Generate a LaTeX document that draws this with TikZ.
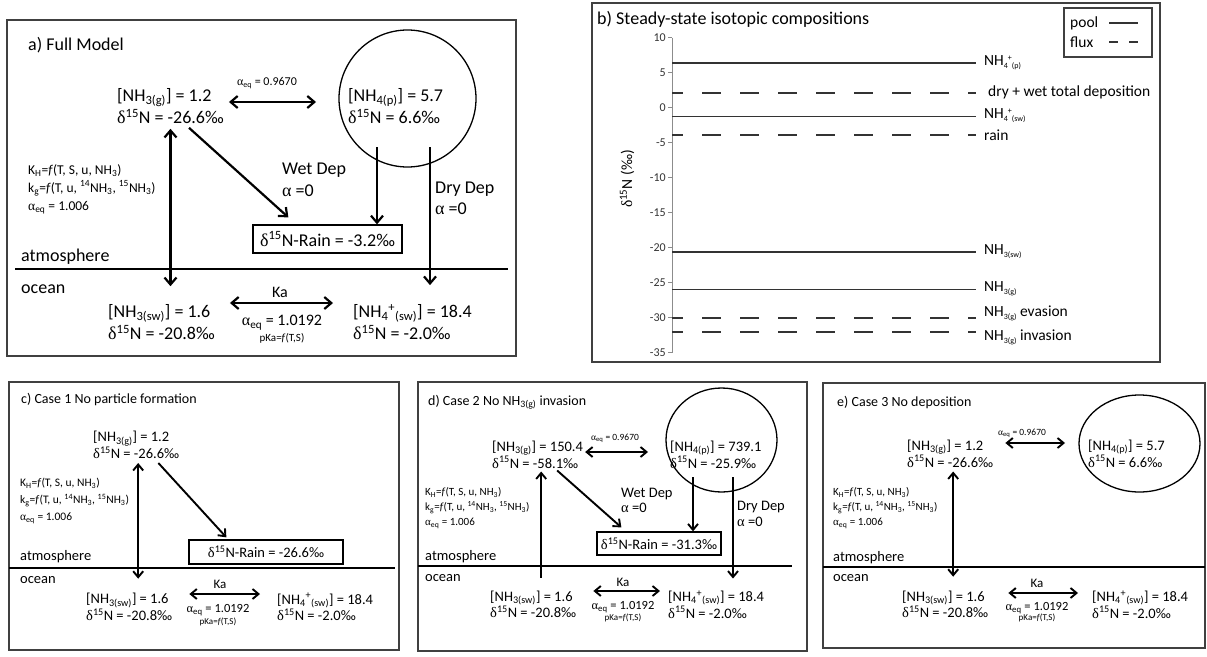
\documentclass[tikz,border=0pt]{standalone}
\usepackage{fontspec}
\setmainfont{Carlito}
\newfontfamily\grk{Liberation Serif}
\usetikzlibrary{arrows.meta,shapes.geometric}

\newcommand{\fsz}[2]{\fontsize{#1}{#2}\selectfont}
\newcommand{\dN}{{\grk δ}\textsuperscript{15}N}
\newcommand{\alf}{{\grk α}}
\newcommand{\aeq}{\alf\textsubscript{eq}}
\newcommand{\khtext}{K\textsubscript{H}=\textit{f}(T, S, u, NH\textsubscript{3})\\
  k\textsubscript{g}=\textit{f}(T, u, \textsuperscript{14}NH\textsubscript{3}, \textsuperscript{15}NH\textsubscript{3})\\
  \aeq{} = 1.006}
\newcommand{\tsub}[1]{\raisebox{-3pt}{\fsz{8}{8}#1}}
\newcommand{\nhplus}{NH\tsub{4}\raisebox{5pt}{\fsz{8}{8}+}}

\begin{document}
\begin{tikzpicture}[x=1pt, y=-1pt,
  pool/.style={anchor=west, align=left, inner sep=0pt},
  lbl/.style={anchor=west, inner sep=0pt},
  ctr/.style={inner sep=0pt},
  arr/.style={-{Straight Barb[length=7pt,width=12pt]}, line width=2.2pt},
  dbl/.style={{Straight Barb[length=7pt,width=12pt]}-{Straight Barb[length=7pt,width=12pt]}, line width=2.2pt},
  sarr/.style={-{Straight Barb[length=6pt,width=10pt]}, line width=1.9pt},
  sdbl/.style={{Straight Barb[length=6pt,width=10pt]}-{Straight Barb[length=6pt,width=10pt]}, line width=1.9pt},
  frame/.style={draw=black!75, line width=1.6pt},
  rainbox/.style={draw, line width=1.3pt, inner sep=0pt},
  sea/.style={line width=1.3pt},
  poolline/.style={draw=black!80, line width=1.6pt},
  fluxline/.style={draw=black!80, line width=2pt, dash pattern=on 19pt off 19pt, dash phase=8pt},
  axisline/.style={draw=black!45, line width=0.8pt},
  fa/.style={font=\fsz{18}{22}},
  fb/.style={font=\fsz{15.5}{15.5}},
  fc/.style={font=\fsz{14.5}{15}}
]
\useasboundingbox (0,0) rectangle (1207,656);

% a) full model
\draw[frame, line width=1.9pt] (7,20) rectangle (516,356);
\node[lbl, fa] (ttla) at (28,45) {a) Full Model};
\node[pool, fa] (ag) at (117,106) {[NH\textsubscript{3(g)}] = 1.2\\\dN{} = -26.6‰};
\node[pool, fa] (ap) at (348,106) {[NH\textsubscript{4(p)}] = 5.7\\\dN{} = 6.6‰};
\node[circle, draw, line width=1.3pt, minimum size=137pt] (apc) at (407.5,98.5) {};
\node[ctr, font=\fsz{12}{12}] (aq1) at (267,83) {\aeq{} = 0.9670};
\node[rainbox, fa, minimum width=149pt, minimum height=28pt] (ar) at (327.5,239) {\dN-Rain = -3.2‰};
\node[pool, fa] (awd) at (282,180) {Wet Dep\\\alf{} =0};
\node[pool, font=\fsz{18}{21}] (add) at (435,198.5) {Dry Dep\\\alf{} =0};
\node[pool, font=\fsz{13.5}{18}] (ak) at (28,189) {\khtext};
\node[lbl, fa] (aatm) at (21,257) {atmosphere};
\node[lbl, fa] (aoc) at (21,289) {ocean};
\node[pool, fa] (asw) at (108,322) {[NH\textsubscript{3(sw)}] = 1.6\\\dN{} = -20.8‰};
\node[pool, fa] (anh) at (353,322) {[NH\textsubscript{4}\textsuperscript{+}\textsubscript{(sw)}] = 18.4\\\dN{} = -2.0‰};
\node[ctr, font=\fsz{16}{16}] (aka) at (280,292) {Ka};
\node[ctr, font=\fsz{16}{16}] (aq2) at (282,323) {\aeq{} = 1.0192};
\node[ctr, font=\fsz{11}{11}] (apk) at (282,338) {pKa=\textit{f}(T,S)};
\coordinate (aw) at (377,147);
\coordinate (ad) at (430,147);
\draw[sea] (15,269) -- (508,269);
\draw[dbl, shorten <=5pt, shorten >=32pt] ([yshift=4pt]ag.east) -- ([yshift=4pt]ap.west);
\draw[dbl, shorten <=5pt, shorten >=18pt] (ag.south) -- (ag.south |- asw.north);
\draw[arr] ([xshift=-35pt,yshift=-4pt]ag.south east) -- ([xshift=36pt,yshift=7pt]ar.north west);
\draw[arr] (aw) -- (aw |- ar.north);
\draw[arr, shorten >=19pt] (ad) -- (ad |- anh.north);
\draw[dbl, shorten <=15pt, shorten >=20pt] ([yshift=19pt]asw.east) -- ([yshift=19pt]anh.west);

% b) steady state compositions
\draw[frame] (592,3) rectangle (1160,362);
\node[lbl, font=\fsz{18}{18}] (ttlb) at (597,19) {b) Steady-state isotopic compositions};
\draw[frame, line width=1.3pt] (1064,8) rectangle (1152,57);
\node[lbl, fb] (lpool) at (1070,23) {pool};
\node[lbl, fb] (lflux) at (1070,42) {flux};
\draw[poolline] (1109,23) -- (1138,23);
\draw[fluxline, dash pattern=on 9pt off 11pt, dash phase=0pt] (1109,42) -- (1138,42);
\draw[axisline] (672,37.7) -- (672,352.7);
\foreach \v in {10,5,...,-35}{
  \draw[axisline] (668,{107.7-7*\v}) -- (672,{107.7-7*\v});
  \node[anchor=east, inner sep=0pt, font=\fsz{12}{12}, text=black!80] (tk\v) at (666,{107.7-7*\v}) {\v};
}
\node[ctr, fb, rotate=90] (ylab) at (627,179) {\dN{} (‰)};
\foreach \v/\kind in {6.4/poolline, 2.05/fluxline, -1.24/poolline, -3.9/fluxline,
  -20.6/poolline, -25.95/poolline, -30/fluxline, -32.1/fluxline}
  \draw[\kind] (672,{107.7-7*\v}) -- (976,{107.7-7*\v});
\node[lbl, fb] (bp) at (984,62.7) {\nhplus\tsub{(p)}};
\node[lbl, fb] (bdep) at (988,92) {dry + wet total deposition};
\node[lbl, fb] (bsw) at (984,116) {\nhplus\tsub{(sw)}};
\node[lbl, fb] (brain) at (984,135) {rain};
\node[lbl, fb] (b3sw) at (984,251.7) {NH\tsub{3(sw)}};
\node[lbl, fb] (b3g) at (984,289) {NH\tsub{3(g)}};
\node[lbl, fb] (bev) at (984,313) {NH\tsub{3(g)} evasion};
\node[lbl, fb] (binv) at (984,337) {NH\tsub{3(g)} invasion};

% c) case 1
\draw[frame] (9,382) rectangle (399,650);
\node[lbl, font=\fsz{14}{14}] (ttlc) at (21,400) {c) Case 1 No particle formation};
\node[pool, fc] (cg) at (93,445) {[NH\textsubscript{3(g)}] = 1.2\\\dN{} = -26.6‰};
\node[rainbox, fc, minimum width=154pt, minimum height=24pt] (cr) at (266,552) {\dN-Rain = -26.6‰};
\node[pool, font=\fsz{11.5}{17}] (ck) at (20,501) {\khtext};
\node[lbl, fc] (catm) at (20,557) {atmosphere};
\node[lbl, fc] (coc) at (20,580) {ocean};
\node[pool, fc] (csw) at (86,607) {[NH\textsubscript{3(sw)}] = 1.6\\\dN{} = -20.8‰};
\node[pool, fc] (cnh) at (277,607) {[NH\textsubscript{4}\textsuperscript{+}\textsubscript{(sw)}] = 18.4\\\dN{} = -2.0‰};
\node[ctr, font=\fsz{13}{13}] (cka) at (220,584) {Ka};
\node[ctr, font=\fsz{12.5}{12.5}] (cq2) at (218,610) {\aeq{} = 1.0192};
\node[ctr, font=\fsz{9}{9}] (cpk) at (218,622) {pKa=\textit{f}(T,S)};
\draw[sea] (9,568) -- (395,568);
\draw[sdbl, shorten <=4pt, shorten >=14.5pt] ([xshift=2pt]cg.south) -- ([xshift=2pt]cg.south |- csw.north);
\draw[sarr] ([xshift=-21pt,yshift=-4pt]cg.south east) -- ([xshift=38pt,yshift=2pt]cr.north west);
\draw[sdbl, shorten <=17pt, shorten >=17pt] ([yshift=13pt]csw.east) -- ([yshift=13pt]cnh.west);

% d) case 2
\draw[frame] (418,382) rectangle (807,651);
\node[lbl, font=\fsz{14}{14}] (ttld) at (428,402) {d) Case 2 No NH\textsubscript{3(g)} invasion};
\node[pool, fc] (dg) at (492,454.5) {[NH\textsubscript{3(g)}] = 150.4\\\dN{} = -58.1‰};
\node[pool, fc] (dp) at (670,454.5) {[NH\textsubscript{4(p)}] = 739.1\\\dN{} = -25.9‰};
\node[ellipse, draw, line width=1.3pt, minimum width=111pt, minimum height=104pt] (dpc) at (721.5,440) {};
\node[ctr, font=\fsz{9.5}{9.5}] (dq1) at (615,438) {\aeq{} = 0.9670};
\node[rainbox, fc, minimum width=124pt, minimum height=23pt] (dr) at (659,543.5) {\dN-Rain = -31.3‰};
\node[pool, fc] (dwd) at (621,500.5) {Wet Dep\\\alf{} =0};
\node[pool, font=\fsz{14.5}{16}] (ddd) at (737,514) {Dry Dep\\\alf{} =0};
\node[pool, font=\fsz{11}{15}] (dk) at (425,508) {\khtext};
\node[lbl, fc] (datm) at (425,557) {atmosphere};
\node[lbl, fc] (doc) at (425,578) {ocean};
\node[pool, fc] (dsw) at (490,604.5) {[NH\textsubscript{3(sw)}] = 1.6\\\dN{} = -20.8‰};
\node[pool, fc] (dnh) at (668,604.5) {[NH\textsubscript{4}\textsuperscript{+}\textsubscript{(sw)}] = 18.4\\\dN{} = -2.0‰};
\node[ctr, font=\fsz{13}{13}] (dka) at (623,582) {Ka};
\node[ctr, font=\fsz{12.5}{12.5}] (dq2) at (623,607) {\aeq{} = 1.0192};
\node[ctr, font=\fsz{9}{9}] (dpk) at (623,618) {pKa=\textit{f}(T,S)};
\coordinate (dw) at (693,477);
\coordinate (dd) at (733,477);
\draw[sea] (418,566) -- (792,566);
\draw[sdbl, shorten <=2pt, shorten >=22pt] ([yshift=2.5pt]dg.east) -- ([yshift=2.5pt]dp.west);
\draw[sarr, shorten <=13pt, shorten >=3pt] ([xshift=8pt]dsw.north) -- ([xshift=8pt]dsw.north |- dg.south);
\draw[sarr] ([xshift=-26pt,yshift=-2pt]dg.south east) -- ([xshift=25pt,yshift=4pt]dr.north west);
\draw[sarr] (dw) -- (dw |- dr.north);
\draw[sarr, shorten >=12pt] (dd) -- (dd |- dnh.north);
\draw[sdbl, shorten <=17pt, shorten >=8pt] ([yshift=13.5pt]dsw.east) -- ([yshift=13.5pt]dnh.west);

% e) case 3
\draw[frame] (823,383) rectangle (1205,648);
\node[lbl, font=\fsz{14}{14}] (ttle) at (837,403) {e) Case 3 No deposition};
\node[pool, fc] (eg) at (907,453.5) {[NH\textsubscript{3(g)}] = 1.2\\\dN{} = -26.6‰};
\node[pool, fc] (ep) at (1088,453.5) {[NH\textsubscript{4(p)}] = 5.7\\\dN{} = 6.6‰};
\node[ellipse, draw, line width=1.3pt, minimum width=121pt, minimum height=97pt] (epc) at (1139.5,443.5) {};
\node[ctr, font=\fsz{9.5}{9.5}] (eq1) at (1022,433) {\aeq{} = 0.9670};
\node[pool, font=\fsz{11}{15}] (ek) at (833,508) {\khtext};
\node[lbl, fc] (eatm) at (833,558) {atmosphere};
\node[lbl, fc] (eoc) at (833,578) {ocean};
\node[pool, fc] (esw) at (902,604.5) {[NH\textsubscript{3(sw)}] = 1.6\\\dN{} = -20.8‰};
\node[pool, fc] (enh) at (1092,604.5) {[NH\textsubscript{4}\textsuperscript{+}\textsubscript{(sw)}] = 18.4\\\dN{} = -2.0‰};
\node[ctr, font=\fsz{13}{13}] (eka) at (1037,583) {Ka};
\node[ctr, font=\fsz{12.5}{12.5}] (eq2) at (1037,608) {\aeq{} = 1.0192};
\node[ctr, font=\fsz{9}{9}] (epk) at (1037,618) {pKa=\textit{f}(T,S)};
\draw[sea] (823,567) -- (1205,567);
\draw[sdbl, shorten <=12pt, shorten >=23pt] ([yshift=10.5pt]eg.east) -- ([yshift=10.5pt]ep.west);
\draw[sdbl, shorten <=4pt, shorten >=14pt] ([xshift=3pt]eg.south) -- ([xshift=3pt]eg.south |- esw.north);
\draw[sdbl, shorten <=20pt, shorten >=14pt] ([yshift=11.5pt]esw.east) -- ([yshift=11.5pt]enh.west);
\end{tikzpicture}
\end{document}
